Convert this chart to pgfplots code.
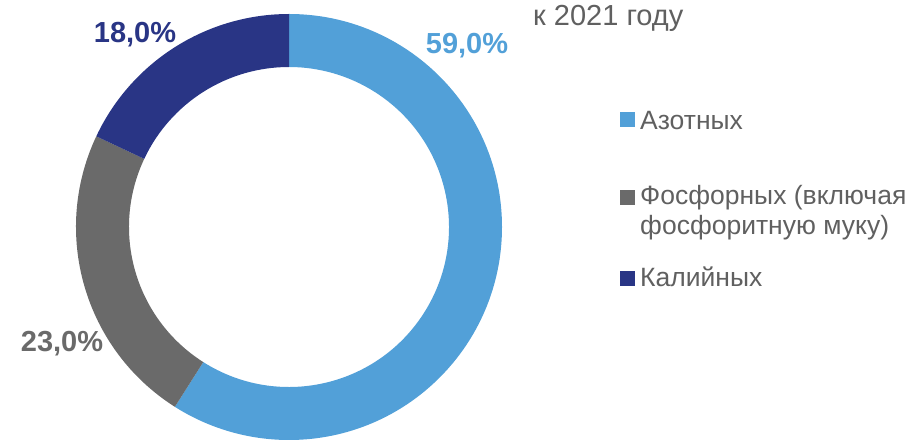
\documentclass[border=0pt]{standalone}
\usepackage{pgfplots}
\usepackage{pgfplotstable}
\pgfplotsset{compat=1.18}
\usepackage{fontspec}
\setmainfont{Liberation Sans}

\definecolor{azot}{RGB}{82,160,216}
\definecolor{fosf}{RGB}{106,106,106}
\definecolor{kali}{RGB}{41,53,133}
\definecolor{txt}{RGB}{96,96,96}

% shares of fertilizers, percent
\pgfplotstableread[col sep=comma]{
name,value
Azot,59
Fosf,23
Kali,18
}\shares

\pgfplotstablegetelem{0}{value}\of\shares \pgfmathsetmacro\vA{\pgfplotsretval}
\pgfplotstablegetelem{1}{value}\of\shares \pgfmathsetmacro\vB{\pgfplotsretval}
\pgfplotstablegetelem{2}{value}\of\shares \pgfmathsetmacro\vC{\pgfplotsretval}
% clockwise from the top
\pgfmathsetmacro\aA{90}
\pgfmathsetmacro\aB{\aA-3.6*\vA}
\pgfmathsetmacro\aC{\aB-3.6*\vB}
\pgfmathsetmacro\aD{\aC-3.6*\vC}

\newcommand\ring[3]{% color, start, end
  \fill[#1] ([shift={(axis cs:289,214)}]#2:213pt) arc[start angle=#2,end angle=#3,radius=213pt]
    -- ([shift={(axis cs:289,214)}]#3:160pt) arc[start angle=#3,end angle=#2,radius=160pt] -- cycle;}
\newcommand\pct[1]{\pgfmathprintnumber[fixed,fixed zerofill,precision=1,use comma,assume math mode=true]{#1}\%}
\tikzset{lbl/.style={font=\bfseries\fontsize{29}{29}\selectfont, inner sep=0},
  leg/.style={text=txt, font=\fontsize{26.5}{30}\selectfont, inner sep=0, anchor=base west}}

\begin{document}
\begin{tikzpicture}
\begin{axis}[
  x=1pt, y=1pt,
  xmin=0, xmax=910, ymin=0, ymax=441,
  hide axis,
  clip=false,
]
\ring{azot}{\aA}{\aB}
\ring{fosf}{\aB}{\aC}
\ring{kali}{\aC}{\aD}

\node[lbl, text=azot] at (axis cs:467,395) {\pct{\vA}};
\node[lbl, text=fosf] at (axis cs:62,97) {\pct{\vB}};
\node[lbl, text=kali] at (axis cs:135,406) {\pct{\vC}};

\node[leg, font=\fontsize{29}{30}\selectfont] at (axis cs:533,415) {к 2021 году};

% legend
\fill[azot] (axis cs:620,313.5) rectangle (axis cs:635,328.5);
\fill[fosf] (axis cs:620,235.5) rectangle (axis cs:635,250.5);
\fill[kali] (axis cs:620,154.5) rectangle (axis cs:635,169.5);
\node[leg] at (axis cs:640,311) {Азотных};
\node[leg] at (axis cs:640,236) {Фосфорных (включая};
\node[leg] at (axis cs:640,206) {фосфоритную муку)};
\node[leg] at (axis cs:640,154) {Калийных};
\end{axis}
\pgfresetboundingbox
\path[use as bounding box] (current axis.south west) rectangle (current axis.north east);
\end{tikzpicture}
\end{document}
